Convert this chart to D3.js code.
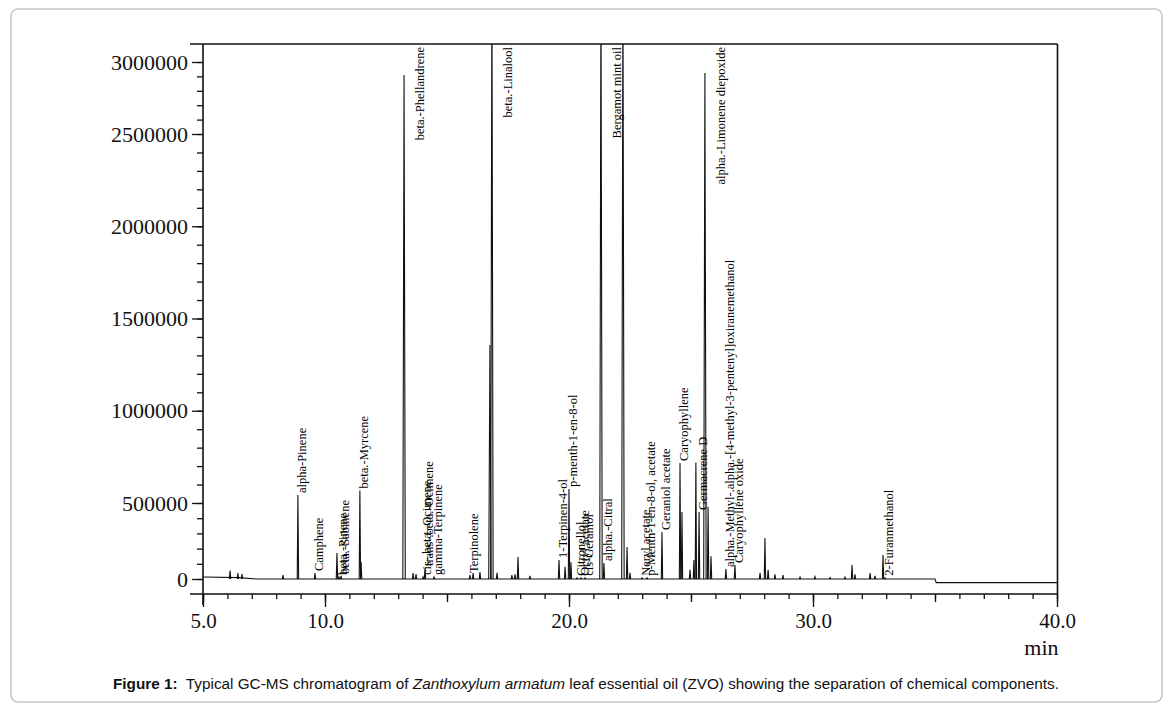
<!DOCTYPE html>
<html>
<head>
<meta charset="utf-8">
<script src="https://cdn.jsdelivr.net/npm/d3@7"></script>
<style>
  body { margin: 0; background: #fff; }
  svg { display: block; }
</style>
</head>
<body>
<svg id="chart" width="1175" height="716"></svg>
<script>
// retention time (min), abundance, name ("" = unlabelled)
const peakTimes = [6.11, 6.43, 6.60, 8.28, 8.89, 9.59, 10.49, 10.57, 10.66, 11.43, 11.48,
  13.24, 13.61, 13.73, 14.02, 14.10, 14.47, 15.94, 16.07, 16.35, 16.76, 16.84,
  17.05, 17.66, 17.79, 17.91, 18.40, 19.59, 19.84, 20.00, 20.08, 20.33, 20.49, 20.66,
  21.31, 21.43, 22.21, 22.38, 22.50, 22.99, 23.20, 23.81, 24.55, 24.63, 24.96, 25.12,
  25.20, 25.33, 25.57, 25.70, 25.82, 26.43, 26.80, 27.83, 28.03, 28.16, 28.44, 28.77,
  29.47, 30.08, 30.70, 31.31, 31.60, 31.72, 32.34, 32.54, 32.87, 32.95]
const peakHeights = [55000, 39000, 33000, 26000, 543000, 39000, 171000, 13000, 20000, 568000, 112000,
  2910000, 39000, 33000, 13000, 72000, 13000, 26000, 39000, 46000, 1356000, 3600000,
  40000, 25000, 30000, 145000, 20000, 125000, 80000, 576000, 110000, 8000, 8000, 8000,
  3600000, 105000, 3600000, 210000, 40000, 8000, 8000, 309000, 717000, 441000, 60000, 125000,
  720000, 441000, 2924000, 474000, 150000, 66000, 92000, 40000, 270000, 60000, 30000, 25000,
  12000, 15000, 10000, 12000, 92000, 30000, 39000, 20000, 158000, 8000]
const peakLabels = ["", "", "", "", "alpha-Pinene", "Camphene", "", "beta.-Pinene", "beta.-Sabinene", "beta.-Myrcene", "",
  "beta.-Phellandrene", "", "", "cis-.beta.-Ocimene", "trans-.beta.-Ocimene", "gamma-Terpinene", "Terpinolene", "", "", "", "beta.-Linalool",
  "", "", "", "", "", "1-Terpinen-4-ol", "", "p-menth-1-en-8-ol", "", "Citronellol", "Octyl acetate", "cis-Geraniol",
  "Bergamot mint oil", "alpha.-Citral", "", "", "", "Neryl acetate", "p-Menth-1-en-8-ol, acetate", "Geraniol acetate", "Caryophyllene", "", "", "",
  "", "Germacrene D", "alpha.-Limonene diepoxide", "", "", "alpha.-Methyl-.alpha.-[4-methyl-3-pentenyl]oxiranemethanol", "Caryophyllene oxide", "", "", "", "", "",
  "", "", "", "", "", "", "", "", "", "2-Furanmethanol"]

const baseTimes = [5, 6.5, 7.2, 35, 35.05, 40]
const baseValues = [13000, 9000, 0, 0, -24000, -24000]

const yTickValues = [0, 500000, 1000000, 1500000, 2000000, 2500000, 3000000]
const xLabelValues = [5, 10, 20, 30, 40]

const svg = d3.select('#chart')
const plotLeft = 203, plotTop = 44, axisY = 594
const ink = '#111'

// the printed axis is not evenly spaced at its ends, so the scale follows the printed ticks
const x = d3.scaleLinear().domain([5, 40]).range([plotLeft, 1057])
const y = d3.scaleLinear()
    .domain([0, 500000, 2500000, 3000000])
    .range([579, 503, 134, 62])
const plotRight = x(40) + 0.5

// outer rounded box
svg.append('rect')
    .attr('x', 11).attr('y', 9).attr('width', 1151).attr('height', 693)
    .attr('rx', 7).attr('fill', 'none')
    .attr('stroke', '#c6c6c6').attr('stroke-width', 1.6)

svg.append('defs').append('clipPath').attr('id', 'plot')
    .append('rect').attr('x', plotLeft).attr('y', plotTop)
    .attr('width', plotRight - plotLeft).attr('height', axisY - plotTop)

// frame
const frame = svg.append('g').attr('stroke', ink).attr('stroke-width', 1.6)
frame.append('line').attr('x1', 190).attr('x2', plotRight).attr('y1', plotTop).attr('y2', plotTop)
frame.append('line').attr('x1', plotRight).attr('x2', plotRight).attr('y1', plotTop).attr('y2', axisY)
frame.append('line').attr('x1', plotLeft).attr('x2', plotLeft).attr('y1', plotTop).attr('y2', axisY + 11)
frame.append('line').attr('x1', 190).attr('x2', plotRight).attr('y1', axisY).attr('y2', axisY)

function styleAxis(g, size) {
    g.select('.domain').remove()
    g.selectAll('.tick line').attr('stroke', ink).attr('stroke-width', 1.3)
    g.selectAll('.tick text')
        .attr('fill', ink)
        .style('font-family', '"Liberation Serif", "DejaVu Serif", serif')
        .style('font-size', size + 'px')
}

// y axis
svg.append('g').attr('transform', `translate(${plotLeft},0)`)
    .call(d3.axisLeft(y).tickValues(d3.range(0, 3000001, 100000)).tickSize(6).tickFormat(''))
    .call(g => styleAxis(g, 10))
svg.append('g').attr('transform', `translate(${plotLeft},0)`)
    .call(d3.axisLeft(y).tickValues(yTickValues).tickSize(11).tickPadding(4).tickFormat(d3.format('d')))
    .call(g => styleAxis(g, 22))

// x axis
svg.append('g').attr('transform', `translate(0,${axisY})`)
    .call(d3.axisBottom(x).tickValues(d3.range(5, 41, 1)).tickSize(5).tickFormat(''))
    .call(g => styleAxis(g, 10))
svg.append('g').attr('transform', `translate(0,${axisY})`)
    .call(d3.axisBottom(x).tickValues(d3.range(5, 41, 5)).tickSize(8).tickFormat(''))
    .call(g => styleAxis(g, 10))
svg.append('g').attr('transform', `translate(0,${axisY})`)
    .call(d3.axisBottom(x).tickValues(xLabelValues).tickSize(13).tickPadding(6).tickFormat(d3.format('.1f')))
    .call(g => styleAxis(g, 21))

svg.append('text')
    .attr('x', plotRight + 1).attr('y', 655)
    .attr('text-anchor', 'end')
    .attr('fill', ink)
    .style('font-family', '"Liberation Serif", serif')
    .style('font-size', '22px')
    .text('min')

// chromatogram
const line = d3.line().x(d => x(d[0])).y(d => y(d[1]))
const plot = svg.append('g').attr('clip-path', 'url(#plot)')
    .attr('fill', 'none').attr('stroke', ink).attr('stroke-width', 1.1)

plot.append('path').attr('d', line(baseTimes.map((t, i) => [t, baseValues[i]])))

const peaks = peakTimes.map((t, i) => ({ t, v: peakHeights[i], label: peakLabels[i] }))
plot.selectAll('path.peak')
    .data(peaks)
    .join('path')
    .attr('class', 'peak')
    .attr('d', d => {
        const w = d.v > 1000000 ? 0.05 : 0.028
        return line([[d.t - w, 0], [d.t, d.v], [d.t + w, 0]])
    })

// peak names, written upward from the apex; names that would not fit go beside the top
svg.append('g')
    .attr('fill', '#000')
    .style('font-family', '"Liberation Serif", "DejaVu Serif", serif')
    .style('font-size', '12.5px')
    .selectAll('text')
    .data(peaks.filter(d => d.label))
    .join('text')
    .text(d => d.label)
    .each(function (d) {
        const len = this.getComputedTextLength()
        let py = Math.min(y(d.v), y(0)) - 2
        let px = x(d.t) + 8
        if (py - len < plotTop + 3) {
            py = plotTop + 3 + len
            px = x(d.t) + 20
        }
        d3.select(this).attr('transform', `translate(${px},${py}) rotate(-90)`)
    })

// caption
const cap = svg.append('text')
    .attr('x', 586).attr('y', 689)
    .attr('text-anchor', 'middle')
    .attr('fill', '#111')
    .style('font-family', '"Liberation Sans", Arial, sans-serif')
    .style('font-size', '15.3px')
cap.append('tspan').attr('font-weight', 'bold').text('Figure 1:')
cap.append('tspan').text('\u00a0 Typical GC-MS chromatogram of ')
cap.append('tspan').attr('font-style', 'italic').text('Zanthoxylum armatum')
cap.append('tspan').text(' leaf essential oil (ZVO) showing the separation of chemical components.')
</script>
</body>
</html>
